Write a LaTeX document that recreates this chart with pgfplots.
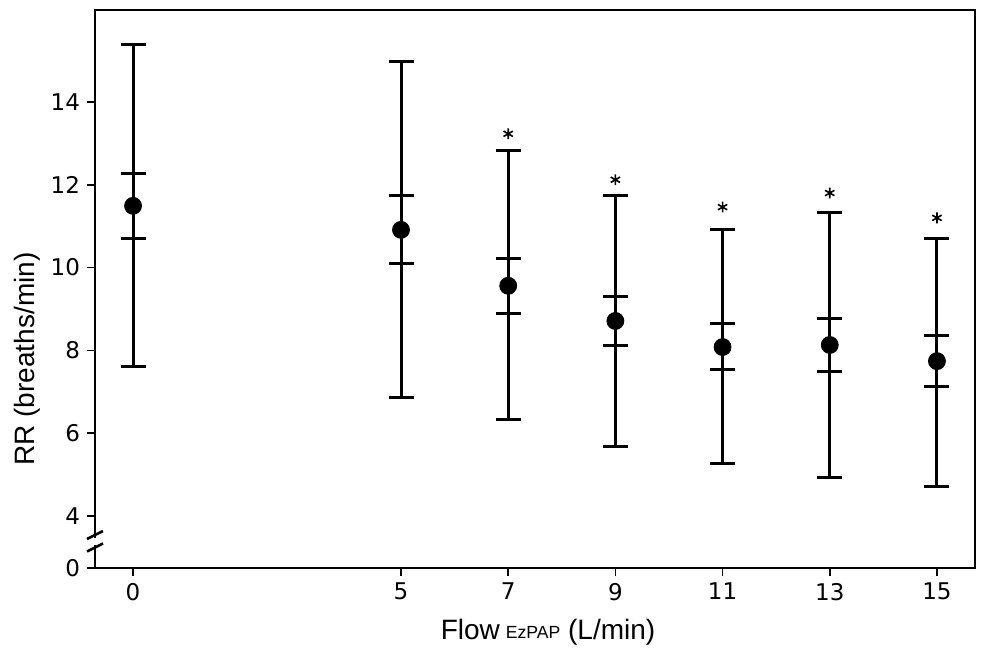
\documentclass[border=0pt]{standalone}
\usepackage{fontspec}
\setmainfont{Liberation Sans}
\newfontfamily\dejavu{DejaVu Sans}
\usepackage{pgfplots}
\usepackage{pgfplotstable}
\pgfplotsset{compat=1.18}
\pgfplotstableread{
x y ep em ip im
0 11.49 3.89 3.89 0.77 0.78
5 10.91 4.06 4.06 0.82 0.82
7 9.56 3.26 3.24 0.67 0.66
9 8.71 3.02 3.02 0.60 0.60
11 8.08 2.85 2.82 0.58 0.55
13 8.13 3.21 3.21 0.65 0.65
15 7.74 2.97 3.02 0.61 0.62
}\data
\begin{document}
\begin{tikzpicture}
\begin{axis}[
  width=440pt, height=279pt, scale only axis,
  xmin=-0.71, xmax=15.71, ymin=2.744, ymax=16.22,
  xtick={0,5,7,9,11,13,15},
  ytick={2.744,4,6,8,10,12,14},
  yticklabels={0,4,6,8,10,12,14},
  tick align=outside, tick pos=left,
  major tick length=4pt,
  tick style={line width=0.8pt, black},
  axis line style={line width=1pt},
  /pgf/number format/assume math mode=true,
  ticklabel style={font=\dejavu\fontsize{11.5}{13}\selectfont},
  xlabel={Flow\hspace{3pt}\raisebox{0.5pt}{\fontsize{8.8}{10}\selectfont EzPAP} (L/min)},
  ylabel={RR (breaths/min)},
  every axis x label/.style={at={(axis description cs:0.5148,0)}, anchor=base, yshift=-35.5pt, font=\fontsize{14}{16}\selectfont},
  every axis y label/.style={at={(axis description cs:-0.0773,0.3746)}, rotate=90, anchor=center, font=\fontsize{14}{16}\selectfont},
  clip=false,
]
\addplot[black, only marks, mark=none,
  error bars/.cd, y dir=both, y explicit,
  error bar style={line width=1.5pt, black},
  error mark options={rotate=90, line width=1.5pt, mark size=6.25pt, black}]
  table[x=x, y=y, y error plus=ep, y error minus=em] {\data};
\addplot[black, only marks, mark=none,
  error bars/.cd, y dir=both, y explicit,
  error bar style={line width=1.5pt, black},
  error mark options={rotate=90, line width=1.5pt, mark size=6.25pt, black}]
  table[x=x, y=y, y error plus=ip, y error minus=im] {\data};
\addplot[black, only marks, mark=*, mark size=4.25pt] table[x=x, y=y] {\data};
\addplot[black, only marks, mark=asterisk, mark size=2.7pt, line width=0.8pt]
  coordinates {(7,13.23) (9,12.12) (11,11.46) (13,11.80) (15,11.20)};
\coordinate (B1) at (axis cs:-0.71,3.54);
\coordinate (B2) at (axis cs:-0.71,3.24);
\coordinate (G1) at (axis cs:-0.71,3.48);
\coordinate (G2) at (axis cs:-0.71,3.30);
\coordinate (SW) at (rel axis cs:0,0);
\coordinate (NE) at (rel axis cs:1,1);
\end{axis}
\draw[white, line width=3pt] (G1) -- (G2);
\draw[line width=1.3pt] ([shift={(-4pt,-2pt)}]B1) -- ([shift={(4pt,2pt)}]B1);
\draw[line width=1.3pt] ([shift={(-4pt,-2pt)}]B2) -- ([shift={(4pt,2pt)}]B2);
\pgfresetboundingbox
\path ([shift={(-47.5pt,-51pt)}]SW) rectangle ([shift={(10.5pt,5pt)}]NE);
\end{tikzpicture}
\end{document}
